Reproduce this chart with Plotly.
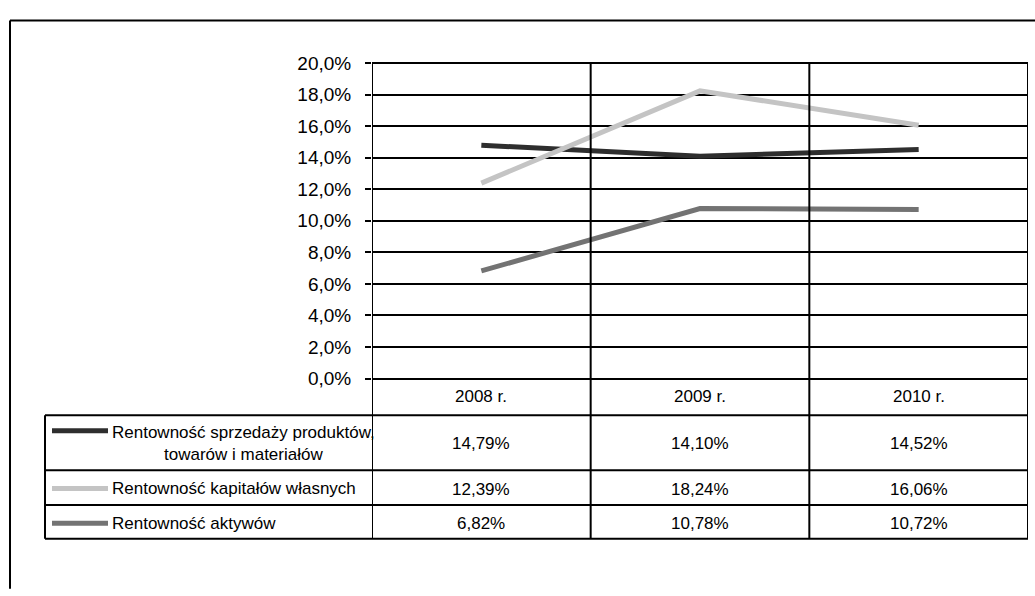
import plotly.graph_objects as go

# Data
years = ["2008 r.", "2009 r.", "2010 r."]
series_names = [
    "Rentowność sprzedaży produktów,<br>towarów i materiałów",
    "Rentowność kapitałów własnych",
    "Rentowność aktywów",
]
sales_margin = [14.79, 14.10, 14.52]
equity_return = [12.39, 18.24, 16.06]
asset_return = [6.82, 10.78, 10.72]
y_ticks = [0, 2, 4, 6, 8, 10, 12, 14, 16, 18, 20]
y_tick_labels = [f"{v:.1f}%".replace(".", ",") for v in y_ticks]

series_values = [sales_margin, equity_return, asset_return]
colors = ["#2e2e2e", "#c4c4c4", "#737373"]

W, H = 1035, 596
FONT = "Liberation Sans, Arial, sans-serif"


def px(x):
    return x / W


def py(y):
    return 1 - y / H


# Layout geometry (pixels)
plot_l, plot_r, plot_t, plot_b = 372, 1028, 55, 382
tab_l = 45
row_lines = [420, 477, 513, 548]
key_x0, key_x1, text_x = 52, 108, 110
legend_text_y = [449, 496, 532]
legend_key_y = [436, 496, 532]
value_y = [449, 497, 532]
header_y = 401

fig = go.Figure()
cats = list(range(len(years)))
for vals, col in zip(series_values, colors):
    fig.add_trace(go.Scatter(
        x=cats, y=vals, mode="lines",
        line=dict(color=col, width=5),
        showlegend=False, hoverinfo="skip",
    ))

shapes = []
blk = dict(color="black", width=2)
# outer frame
shapes.append(dict(type="line", xref="paper", yref="paper",
                   x0=px(10), x1=px(1040), y0=py(11), y1=py(11), line=blk))
shapes.append(dict(type="line", xref="paper", yref="paper",
                   x0=px(10), x1=px(10), y0=py(11), y1=py(600), line=blk))
# plot border top
shapes.append(dict(type="line", xref="paper", yref="paper",
                   x0=px(plot_l), x1=px(plot_r), y0=py(plot_t), y1=py(plot_t), line=blk))
# vertical lines: axis, category boundaries, right border
for xb in [-0.5, 0.5, 1.5, 2.5]:
    shapes.append(dict(type="line", xref="x", yref="paper",
                       x0=xb, x1=xb, y0=py(plot_t), y1=py(row_lines[-1]), line=blk))
# table horizontal lines
for yl in row_lines:
    shapes.append(dict(type="line", xref="paper", yref="paper",
                       x0=px(tab_l), x1=px(plot_r), y0=py(yl), y1=py(yl), line=blk))
# table left border
shapes.append(dict(type="line", xref="paper", yref="paper",
                   x0=px(tab_l), x1=px(tab_l), y0=py(row_lines[0]), y1=py(row_lines[-1]), line=blk))
# legend keys
for col, ky in zip(colors, legend_key_y):
    shapes.append(dict(type="line", xref="paper", yref="paper",
                       x0=px(key_x0), x1=px(key_x1), y0=py(ky), y1=py(ky),
                       line=dict(color=col, width=5)))

annotations = []
# header row (category names)
for i, yr in enumerate(years):
    annotations.append(dict(x=i, y=py(header_y), xref="x", yref="paper",
                            text=yr, showarrow=False, xanchor="center", yanchor="middle",
                            font=dict(family=FONT, size=17, color="black")))
# legend labels
for name, ty in zip(series_names, legend_text_y):
    annotations.append(dict(x=px(text_x), y=py(ty), xref="paper", yref="paper",
                            text=name, showarrow=False, xanchor="left", yanchor="middle",
                            align="center",
                            font=dict(family=FONT, size=17, color="black")))
# values
for vals, vy in zip(series_values, value_y):
    for i, v in enumerate(vals):
        label = f"{v:.2f}%".replace(".", ",")
        annotations.append(dict(x=i, y=py(vy), xref="x", yref="paper",
                                text=label, showarrow=False, xanchor="center", yanchor="middle",
                                font=dict(family=FONT, size=17, color="black")))

fig.update_layout(
    width=W, height=H, autosize=False,
    margin=dict(l=0, r=0, t=0, b=0),
    paper_bgcolor="white", plot_bgcolor="white",
    shapes=shapes, annotations=annotations,
    xaxis=dict(
        domain=[px(plot_l), px(plot_r)], range=[-0.5, 2.5],
        showgrid=False, zeroline=False, showticklabels=False, ticks="",
        showline=False, fixedrange=True,
    ),
    yaxis=dict(
        domain=[py(plot_b), py(plot_t)], range=[0, 20],
        tickmode="array", tickvals=y_ticks, ticktext=y_tick_labels,
        ticks="outside", ticklen=6, tickwidth=2, tickcolor="black",
        ticklabelstandoff=10,
        showgrid=True, gridcolor="black", gridwidth=2,
        zeroline=True, zerolinecolor="black", zerolinewidth=2,
        showline=False,
        tickfont=dict(family=FONT, size=19, color="black"),
        fixedrange=True,
    ),
)

fig.write_html("out.html")
